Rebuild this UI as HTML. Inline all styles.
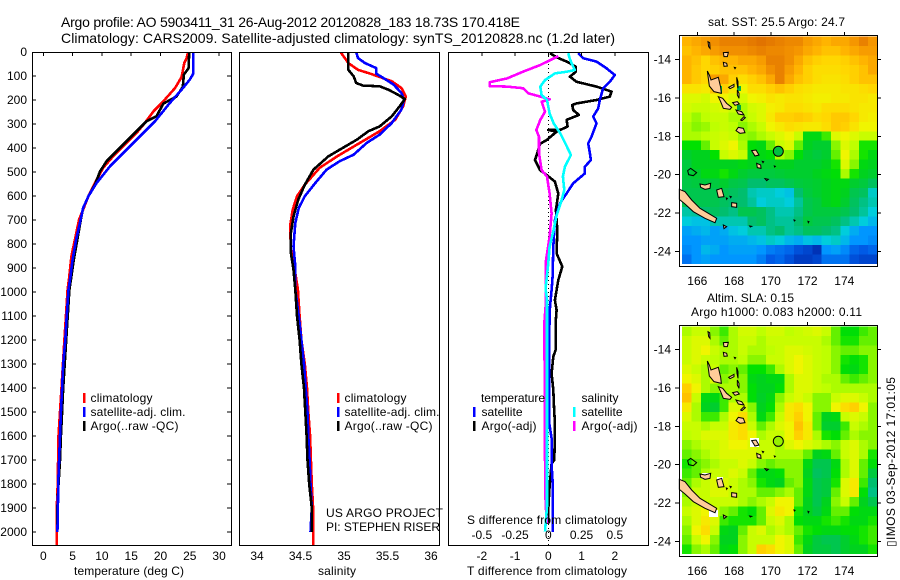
<!DOCTYPE html>
<html>
<head>
<meta charset="utf-8">
<title>Argo profile 5903411_31</title>
<style>
html,body{margin:0;padding:0;background:#fff;}
svg{display:block;}
text{font-family:"Liberation Sans",sans-serif;font-size:12px;fill:#000;}
</style>
</head>
<body>
<svg id="fig" xmlns="http://www.w3.org/2000/svg" width="900" height="580" viewBox="0 0 900 580">
  <defs>
    <clipPath id="clipT"><rect x="32" y="52" width="199" height="494"/></clipPath>
    <clipPath id="clipS"><rect x="239" y="52" width="200" height="494"/></clipPath>
    <clipPath id="clipD"><rect x="448" y="52" width="200" height="494"/></clipPath>
    <g id="coast" transform="translate(650,0) scale(0.33333)" fill="#ffcc99" stroke="#000" stroke-width="3">
      <polygon points="88,568 105,575 125,600 150,625 175,640 200,655 195,668 165,655 130,635 105,612 88,598"/>
      <polygon points="172,213 178,225 183,240 205,232 212,262 214,280 192,275 178,258"/>
      <polygon points="205,290 218,295 230,310 245,322 240,328 220,325 212,305"/>
      <polygon points="265,382 280,385 285,398 270,400 258,392"/>
      <polygon points="248,308 262,305 268,312 255,316"/>
      <polygon points="236,262 252,253 252,260 240,266"/>
      <polygon points="260,232 264,245 264,265 261,250"/>
      <polygon points="262,270 267,280 267,295 262,285"/>
      <polygon points="258,330 275,335 282,345 265,342"/>
      <polygon points="220,187 230,190 232,198 222,199"/>
      <polygon points="220,158 235,157 232,170 222,170"/>
      <polygon points="174,125 179,128 180,145 176,140"/>
      <polygon points="253,202 257,203 255,206"/>
      <polygon points="305,452 318,450 327,465 315,468"/>
      <polygon points="320,490 332,495 333,505 322,503"/>
      <polygon points="337,484 341,485 339,488"/>
      <polygon points="345,536 355,538 350,542"/>
      <polygon points="113,512 122,505 140,518 130,527 116,524" fill="none"/>
      <polygon points="150,552 165,555 182,550 180,565 165,568 152,562"/>
      <polygon points="200,570 215,565 222,590 205,592"/>
      <polygon points="245,608 260,610 260,622 245,620"/>
      <polygon points="220,675 230,680 222,686"/>
      <polygon points="299,678 305,679 301,681"/>
      <polygon points="432,660 435,661 433,663"/>
      <polygon points="474,664 477,665 475,668"/>
      <polygon points="373,498 376,499 374,501"/>
      <polygon points="229,594 232,595 230,598"/>
      <polygon points="240,589 244,590 242,593"/>
      <polygon points="272,360 282,350 286,353 276,362"/>
    </g>
  </defs>

  <text x="61" y="27" style="font-size:14px" textLength="459">Argo profile: AO 5903411_31 26-Aug-2012 20120828_183 18.73S 170.418E</text>
  <text x="61" y="43" style="font-size:14px" textLength="554">Climatology: CARS2009. Satellite-adjusted climatology: synTS_20120828.nc (1.2d later)</text>

  <g id="heat1"></g>
  <g id="heat2"></g>
  <g>
    <rect x="718" y="86" width="4" height="7" fill="#00c040"/>
    <rect x="737" y="86" width="4" height="5" fill="#00b050"/>
    <rect x="737" y="105" width="4" height="5" fill="#00a040"/>
  </g>
  <g>
    <rect x="750" y="438" width="9" height="9" fill="#fff"/>
    <rect x="702" y="473" width="8" height="6" fill="#fff"/>
    <rect x="709" y="510" width="9" height="7" fill="#fff"/>
    <rect x="717" y="477" width="6" height="5" fill="#fff"/>
  </g>
  <use href="#coast"/>
  <use href="#coast" y="290"/>

  <circle cx="778.3" cy="151.3" r="5" fill="#00c040" stroke="#000" stroke-width="1"/>
  <circle cx="778.3" cy="441.3" r="5" fill="#96f000" stroke="#000" stroke-width="1"/>

  <text x="708" y="26" textLength="137">sat. SST: 25.5 Argo: 24.7</text>
  <text x="707" y="302" textLength="87">Altim. SLA: 0.15</text>
  <text x="691" y="316" textLength="171">Argo h1000: 0.083 h2000: 0.11</text>
  <text transform="translate(895,547) rotate(-90)" textLength="170">▯IMOS 03-Sep-2012 17:01:05</text>

  <g id="profiles"></g>

  <text x="74" y="575" textLength="110">temperature (deg C)</text>
  <text x="318" y="575" textLength="38">salinity</text>
  <text x="467" y="575" textLength="160">T difference from climatology</text>
  <text x="467" y="524" textLength="160">S difference from climatology</text>

  <g>
    <rect x="83" y="393" width="2.5" height="10" fill="#f00"/><text x="90.5" y="402" textLength="62">climatology</text>
    <rect x="83" y="407" width="2.5" height="10" fill="#00f"/><text x="90.5" y="416" textLength="95">satellite-adj. clim.</text>
    <rect x="83" y="421" width="2.5" height="10" fill="#000"/><text x="90.5" y="430" textLength="88">Argo(..raw -QC)</text>
  </g>
  <g>
    <rect x="337" y="393" width="2.5" height="10" fill="#f00"/><text x="344.5" y="402" textLength="62">climatology</text>
    <rect x="337" y="407" width="2.5" height="10" fill="#00f"/><text x="344.5" y="416" textLength="95">satellite-adj. clim.</text>
    <rect x="337" y="421" width="2.5" height="10" fill="#000"/><text x="344.5" y="430" textLength="88">Argo(..raw -QC)</text>
  </g>
  <g>
    <text x="481" y="402" textLength="64">temperature</text>
    <rect x="473" y="407" width="2.5" height="10" fill="#00f"/><text x="481.5" y="416" textLength="41">satellite</text>
    <rect x="473" y="421" width="2.5" height="10" fill="#000"/><text x="481.5" y="430" textLength="55">Argo(-adj)</text>
    <text x="581.5" y="402" textLength="37">salinity</text>
    <rect x="573" y="407" width="2.5" height="10" fill="#0ff"/><text x="581.5" y="416" textLength="41">satellite</text>
    <rect x="573" y="421" width="2.5" height="10" fill="#f0f"/><text x="581.5" y="430" textLength="56">Argo(-adj)</text>
  </g>
  <text x="326" y="517" textLength="117">US ARGO PROJECT</text>
  <text x="326" y="531" textLength="114">PI: STEPHEN RISER</text>
</svg>

<script>
// ---- depth axis ----
const depthTicks = [0,100,200,300,400,500,600,700,800,900,1000,1100,1200,1300,1400,1500,1600,1700,1800,1900,2000];

// ---- temperature panel ----
const tempTicks = [0,5,10,15,20,25,30];
const tempClimDepth = [0,25,46,104,150,205,247,303,337,386,435,483,546,601,657,699,782,851,942,990,1200,1400,1500,1600,1800,1900,2057];
const tempClim = [24.7,24.46,24.06,23.6,22.5,20.5,18.8,17.1,15.9,13.9,11.9,10.2,8.8,7.7,6.8,6.1,5.4,4.8,4.4,4.15,3.6,3.1,2.85,2.6,2.45,2.3,2.3];
const tempSatDepth = [0,90,115,157,212,289,351,414,476,546,601,650,712,782,865,949,990,1100,1200,1300,1400,1500,1600,1700,1800,1900,2000];
const tempSat = [25.6,25.6,25.0,23.6,21.6,19.05,16.5,13.9,11.4,9.1,7.7,6.8,6.25,5.6,5.0,4.55,4.3,4.0,3.75,3.4,3.2,3.0,2.85,2.7,2.55,2.5,2.4];
const tempArgoDepth = [0,67,94,146,185,215,268,289,330,372,421,455,497,553,601,650,699,782,865,935,990,1200,1400,1500,1600,1700,1800,1900,2000];
const tempArgo = [24.9,24.8,24.0,23.8,22.75,20.5,19.3,17.6,15.9,14.2,12.2,10.8,9.7,8.8,7.7,6.8,6.4,5.8,5.2,4.8,4.45,3.9,3.4,3.2,3.0,2.85,2.6,2.4,2.35];

// ---- salinity panel ----
const salTicks = [34,34.5,35,35.5,36];
const salClimDepth = [0,46,74,90,104,122,150,185,226,282,330,379,435,483,553,601,657,726,824,921,990,1100,1200,1300,1400,1500,1600,1700,1800,1900,2057];
const salClim = [34.96,35.05,35.16,35.30,35.41,35.55,35.66,35.71,35.68,35.59,35.41,35.18,34.92,34.72,34.55,34.46,34.41,34.38,34.39,34.44,34.47,34.49,34.51,34.55,34.575,34.59,34.61,34.62,34.63,34.645,34.645];
const salSatDepth = [0,25,46,67,90,108,136,171,199,240,296,344,379,428,455,490,546,601,650,712,810,893,990,1100,1200,1300,1400,1500,1600,1700,1800,1900,2000];
const salSat = [35.14,35.16,35.24,35.37,35.37,35.45,35.57,35.66,35.69,35.66,35.55,35.41,35.26,35.11,34.95,34.80,34.67,34.55,34.48,34.44,34.42,34.44,34.44,34.48,34.51,34.54,34.56,34.58,34.59,34.605,34.615,34.63,34.615];
const salArgoDepth = [0,74,101,129,140,143,157,178,196,226,268,310,330,365,407,435,490,553,615,685,754,837,907,990,1100,1200,1300,1400,1500,1600,1700,1800,1900,2000];
const salArgo = [35.05,35.05,35.11,35.14,35.22,35.41,35.51,35.62,35.70,35.64,35.55,35.41,35.28,35.15,34.95,34.82,34.65,34.55,34.475,34.42,34.39,34.39,34.42,34.44,34.46,34.49,34.51,34.54,34.555,34.57,34.58,34.60,34.63,34.63];

// ---- difference panel ----
const tDiffTicks = [-2,-1,0,1,2];
const sDiffTicks = [-0.5,-0.25,0,0.25,0.5];
const sDiffLabels = ['-0.5','-0.25','0','0.25','0.5'];
const tDiffArgoDepth = [5,22,43,61,82,103,124,144,165,186,200,214,221,242,262,283,311,325,325,332,367,383,429,450,492,512,540,589,658,742,839,894,950,992,1034,1075,1131,1242,1269,1339,1408,1478,1547,1589,1700,1714,1825,1908,1964];
const tDiffArgo = [0.05,0.25,0.6,0.82,0.83,0.65,0.85,1.45,1.9,1.85,1.45,0.85,0.72,0.75,0.92,0.55,0.58,0.35,0,0.25,-0.05,-0.25,-0.35,-0.4,-0.25,-0.05,0.2,0.3,0.23,0.27,0.25,0.42,0.3,0.25,0.2,0.25,0.22,0.22,0.15,0.1,0.15,0.17,0.2,0.2,0.18,0.1,0.03,0,0];
const tDiffSatDepth = [5,26,40,68,96,124,151,200,235,269,297,353,381,422,450,478,506,547,589,631,700,811,936,992,1061,1200,1408,1547,1610,1720,1790,2000];
const tDiffSat = [0.9,1.05,1.45,1.75,2.0,1.85,1.65,1.55,1.5,1.35,1.45,1.3,1.2,1.25,1.28,1.1,1.1,0.75,0.55,0.35,0.2,0.15,0.13,0.1,0.05,0.02,0.02,0.03,0.1,0.1,0.13,0.13];
const sDiffArgoDepth = [17,54,82,110,126,142,144,151,172,186,197,207,249,283,325,353,422,492,519,589,672,769,880,992,1061,1131,1255,1339,1686,1880,1964];
const sDiffArgo = [0.075,-0.06,-0.19,-0.31,-0.44,-0.44,-0.31,-0.19,-0.15,-0.06,0.01,-0.05,-0.025,-0.06,-0.09,-0.07,-0.07,-0.05,-0.01,0.01,0.025,0.01,-0.02,-0.02,-0.02,-0.03,-0.03,-0.025,-0.025,-0.02,-0.01];
const sDiffSatDepth = [5,26,47,75,82,89,117,144,179,200,256,297,339,394,429,478,519,575,617,686,742,811,880,985,1034,1131,1408,1686,1825,1894,1998];
const sDiffSat = [0.15,0.16,0.175,0.2,0.14,0.05,-0.025,-0.06,-0.05,-0.01,0.01,0.04,0.09,0.14,0.17,0.125,0.11,0.12,0.1,0.06,0.04,0.01,0,-0.02,-0.01,-0.01,-0.01,-0.01,-0.01,-0.01,-0.025];

// ---- maps: colour-scale index per 0.5 degree cell, north to south ----
const mapLonTicks = [166,168,170,172,174];
const mapLatTicks = [-14,-16,-18,-20,-22,-24];
const sstGrid = [
[80,82,84,86,88,88,88,89,91,89,88,87,87,84,82,80,82,82,85,88,85],
[78,80,82,84,86,86,86,87,88,87,87,86,85,82,80,78,78,80,82,84,84],
[80,78,75,78,80,80,82,82,84,88,88,86,82,78,76,75,75,76,78,80,82],
[80,77,75,76,78,78,78,80,82,86,88,84,80,76,74,74,74,75,76,78,82],
[80,77,75,84,82,76,74,76,78,82,88,82,78,76,74,73,73,74,76,78,78],
[73,73,72,78,76,72,70,74,74,76,78,76,74,73,72,72,72,73,73,74,75],
[68,68,67,70,70,68,67,70,71,73,72,73,73,72,71,71,72,72,73,73,72],
[67,66,66,67,68,66,64,67,68,71,72,74,74,73,72,74,74,74,73,72,72],
[65,63,65,66,66,64,64,66,68,72,76,76,77,76,74,75,77,77,75,72,71],
[64,62,63,65,66,65,62,64,66,70,72,74,73,72,72,74,77,76,73,70,70],
[64,64,65,66,67,66,63,62,64,66,68,70,66,52,52,58,68,70,68,66,66],
[55,55,60,66,68,70,64,54,52,60,66,68,60,50,48,48,62,68,65,56,56],
[48,50,50,55,66,68,66,50,52,54,64,62,54,48,46,48,60,70,64,56,52],
[46,50,50,50,50,50,52,50,48,48,50,50,48,48,48,50,56,68,62,52,50],
[46,48,52,52,56,52,48,46,46,46,47,48,48,48,50,52,54,64,56,50,48],
[45,46,46,46,48,45,44,40,40,42,42,44,46,47,48,50,52,52,48,46,42],
[44,44,44,44,44,42,40,34,32,32,30,28,40,46,48,50,52,50,44,42,32],
[44,44,44,44,42,40,40,36,30,32,32,30,36,44,46,50,52,48,42,38,34],
[35,36,40,42,40,38,44,44,42,38,34,34,38,44,46,46,46,44,40,36,30],
[30,28,28,34,34,34,34,40,42,38,36,36,40,46,44,44,42,38,34,30,26],
[22,24,26,22,24,28,30,34,34,38,40,36,38,42,42,40,38,30,24,20,20],
[20,20,22,22,22,24,24,26,28,32,30,26,24,28,26,30,32,26,20,20,18],
[18,20,26,24,20,22,22,22,20,16,14,12,8,6,2,20,22,18,12,10,12],
[14,20,22,20,20,20,20,20,16,10,12,8,4,4,6,14,14,14,8,6,6]
];
const slaGrid = [
[64,66,66,62,58,64,67,67,65,67,67,65,66,67,68,66,60,54,54,58,60],
[66,68,68,64,60,64,66,66,64,66,66,66,66,66,66,64,60,56,56,60,60],
[66,68,70,66,64,64,66,64,64,65,66,68,68,67,66,65,62,60,60,62,62],
[66,68,66,65,64,64,65,62,62,66,66,68,70,68,66,65,62,56,54,56,62],
[68,66,64,66,60,62,60,55,55,58,64,68,70,68,66,65,62,54,52,56,62],
[70,68,64,68,62,64,62,52,50,52,52,64,68,68,66,64,64,60,58,60,62],
[76,70,64,62,64,64,62,54,50,50,54,64,68,68,66,65,64,64,64,64,64],
[78,66,52,52,58,64,64,54,49,52,62,66,68,66,62,62,66,68,68,66,64],
[72,64,50,48,58,68,68,62,50,54,64,72,74,70,62,62,70,74,76,70,62],
[68,64,58,58,64,70,74,64,52,58,66,72,76,70,60,50,52,66,68,66,62],
[66,66,64,66,66,72,74,66,60,64,68,70,78,72,60,48,48,58,66,64,62],
[65,66,68,68,68,72,74,70,64,66,66,70,76,72,64,56,54,60,64,62,62],
[62,64,66,66,68,70,70,68,66,66,64,68,70,68,66,64,62,66,68,64,62],
[60,62,64,66,68,68,68,68,66,66,64,64,64,60,50,52,60,66,68,64,56],
[56,60,62,64,66,66,68,66,62,60,62,62,62,52,44,44,52,64,68,60,54],
[58,60,64,66,66,68,66,60,52,52,54,62,62,50,42,44,54,64,68,60,46],
[60,64,66,68,68,66,64,62,56,52,50,60,62,52,44,46,56,68,72,58,40],
[62,66,66,68,68,66,64,64,60,60,62,64,60,52,44,46,60,68,72,54,38],
[64,66,66,66,66,66,64,62,64,66,70,70,60,50,44,50,62,66,60,50,44],
[66,68,70,66,62,60,56,54,60,68,72,70,56,50,46,52,60,60,54,52,52],
[64,68,72,68,58,56,56,56,60,66,68,64,54,52,52,56,58,56,52,52,56],
[62,70,74,66,52,50,60,66,68,64,66,64,60,56,54,52,52,54,54,56,58],
[60,66,70,62,50,50,62,66,66,66,70,68,58,52,46,44,44,48,52,56,58],
[56,62,64,60,52,54,62,66,76,74,70,68,60,50,46,46,44,48,50,50,56]
];
const colourIndex = [0,10,20,30,40,50,55,60,65,70,75,80,85,90];
const colourStops = [[0,40,170],[0,90,230],[0,150,255],[0,205,220],[0,190,110],[0,210,30],[0,225,0],[100,240,0],[190,255,0],[240,245,0],[255,215,0],[255,180,0],[245,150,0],[225,115,0]];

const NS = 'http://www.w3.org/2000/svg';
function mk(tag, attrs, parent, txt){
  const e = document.createElementNS(NS, tag);
  for (const k in attrs) e.setAttribute(k, attrs[k]);
  if (txt !== undefined) e.textContent = txt;
  parent.appendChild(e);
  return e;
}
const depthY = d => 52 + d * 0.24;
const tempX = t => 43.3 + t * 5.86;
const salX = s => 257 + (s - 34) * 87;
const tDiffX = t => 548.3 + t * 33.25;
const sDiffX = s => 548.3 + s * 133;

const root = document.getElementById('profiles');

function series(depths, values, xf, colour, clip, name){
  const pts = depths.map((d, i) => xf(values[i]).toFixed(1) + ',' + depthY(d).toFixed(1)).join(' ');
  const el = mk('polyline', {points: pts, fill: 'none', stroke: colour, 'stroke-width': 2.6, 'shape-rendering': 'crispEdges', 'stroke-linejoin': 'round', 'clip-path': 'url(#' + clip + ')'}, root);
  
  
}
function frame(x, y, w, h, name){
  const el = mk('rect', {x: x, y: y, width: w, height: h, fill: 'none', stroke: '#000', 'stroke-width': 1.3, 'shape-rendering': 'crispEdges'}, document.getElementById('fig'));
  
  
}
function tick(x1, y1, x2, y2, name){
  const el = mk('line', {x1: x1, y1: y1, x2: x2, y2: y2, stroke: '#000', 'stroke-width': 1, 'shape-rendering': 'crispEdges'}, root);
  
  
}
function label(x, y, anchor, str, name){
  const el = mk('text', {x: x, y: y, 'text-anchor': anchor}, root, str);
  
  
}

// series
series(tempClimDepth, tempClim, tempX, '#f00', 'clipT', 'temperature-climatology-line');
series(tempArgoDepth, tempArgo, tempX, '#000', 'clipT', 'temperature-argo-line');
series(tempSatDepth, tempSat, tempX, '#00f', 'clipT', 'temperature-satellite-line');
series(salClimDepth, salClim, salX, '#f00', 'clipS', 'salinity-climatology-line');
series(salSatDepth, salSat, salX, '#00f', 'clipS', 'salinity-satellite-line');
series(salArgoDepth, salArgo, salX, '#000', 'clipS', 'salinity-argo-line');

// zero reference of the difference panel
const zeroLine = mk('line', {x1: tDiffX(0), y1: 52, x2: tDiffX(0), y2: 545, stroke: '#000', 'stroke-width': 1, 'stroke-dasharray': '1 3', 'shape-rendering': 'crispEdges'}, root);



series(tDiffArgoDepth, tDiffArgo, tDiffX, '#000', 'clipD', 't-difference-argo-line');
series(tDiffSatDepth, tDiffSat, tDiffX, '#00f', 'clipD', 't-difference-satellite-line');
series(sDiffArgoDepth, sDiffArgo, sDiffX, '#f0f', 'clipD', 's-difference-argo-line');
series(sDiffSatDepth, sDiffSat, sDiffX, '#0ff', 'clipD', 's-difference-satellite-line');

// depth ticks
depthTicks.forEach(d => {
  label(27, depthY(d) + 4, 'end', String(d), 'depth-tick-label');
  if (d > 0) {
    tick(32, depthY(d), 36, depthY(d), 'depth-tick-left');
    tick(227, depthY(d), 231, depthY(d), 'depth-tick-right');
  }
});
tempTicks.forEach(t => {
  tick(tempX(t), 52, tempX(t), 56, 'temperature-tick');
  label(tempX(t), 560, 'middle', String(t), 'temperature-tick-label');
});
salTicks.forEach(s => {
  label(salX(s), 560, 'middle', String(s), 'salinity-tick-label');
});
tDiffTicks.forEach(t => {
  tick(tDiffX(t), 52, tDiffX(t), 56, 't-difference-tick');
  label(tDiffX(t), 560, 'middle', String(t), 't-difference-tick-label');
});
sDiffTicks.forEach((s, i) => {
  label(sDiffX(s), 539, 'middle', sDiffLabels[i], 's-difference-tick-label');
});

// maps
const lonX = lon => 697.3 + (lon - 166) * 18.375;
const latY = (lat, off) => off + 59.3 + (-14 - lat) * 19.24;
const lonStart = 165.18, lonStep = 0.506, latStart = -12.82, latStep = 0.492;

function colourFor(v){
  let k = 0;
  while (k < colourIndex.length - 2 && v > colourIndex[k + 1]) k++;
  const f = Math.min(1, Math.max(0, (v - colourIndex[k]) / (colourIndex[k + 1] - colourIndex[k])));
  const a = colourStops[k], b = colourStops[k + 1];
  return 'rgb(' + a.map((c, i) => Math.round(c + (b[i] - c) * f)).join(',') + ')';
}
function drawGrid(grid, holder, off, name){
  grid.forEach((row, j) => {
    row.forEach((v, i) => {
      const x0 = lonX(lonStart + i * lonStep), x1 = lonX(lonStart + (i + 1) * lonStep);
      const y0 = latY(latStart - j * latStep, off), y1 = latY(latStart - (j + 1) * latStep, off);
      const cell = mk('rect', {x: x0.toFixed(2), y: y0.toFixed(2), width: (x1 - x0 + 0.4).toFixed(2), height: (y1 - y0 + 0.4).toFixed(2), fill: colourFor(v), 'shape-rendering': 'crispEdges'}, holder);
      
      
    });
  });
}
drawGrid(sstGrid, document.getElementById('heat1'), 0, 'sst-cell');
drawGrid(slaGrid, document.getElementById('heat2'), 290, 'sla-cell');

[0, 290].forEach(off => {
  mapLonTicks.forEach(lon => {
    tick(lonX(lon), off + 32, lonX(lon), off + 35, 'map-lon-tick');
    label(lonX(lon), off + 285, 'middle', String(lon), 'map-lon-label');
  });
  mapLatTicks.forEach(lat => {
    tick(675, latY(lat, off), 679, latY(lat, off), 'map-lat-tick-left');
    tick(877, latY(lat, off), 881, latY(lat, off), 'map-lat-tick-right');
    label(671, latY(lat, off) + 4, 'end', String(lat), 'map-lat-label');
  });
});

// frames drawn last so they sit on top of the marks
frame(32.5, 52.5, 199, 493, 'temperature-panel-frame');
frame(239.5, 52.5, 200, 493, 'salinity-panel-frame');
frame(448.5, 52.5, 200, 493, 'difference-panel-frame');
frame(679.5, 35.5, 198, 231, 'sst-map-frame');
frame(679.5, 325.5, 198, 231, 'sla-map-frame');
</script>
</body>
</html>
